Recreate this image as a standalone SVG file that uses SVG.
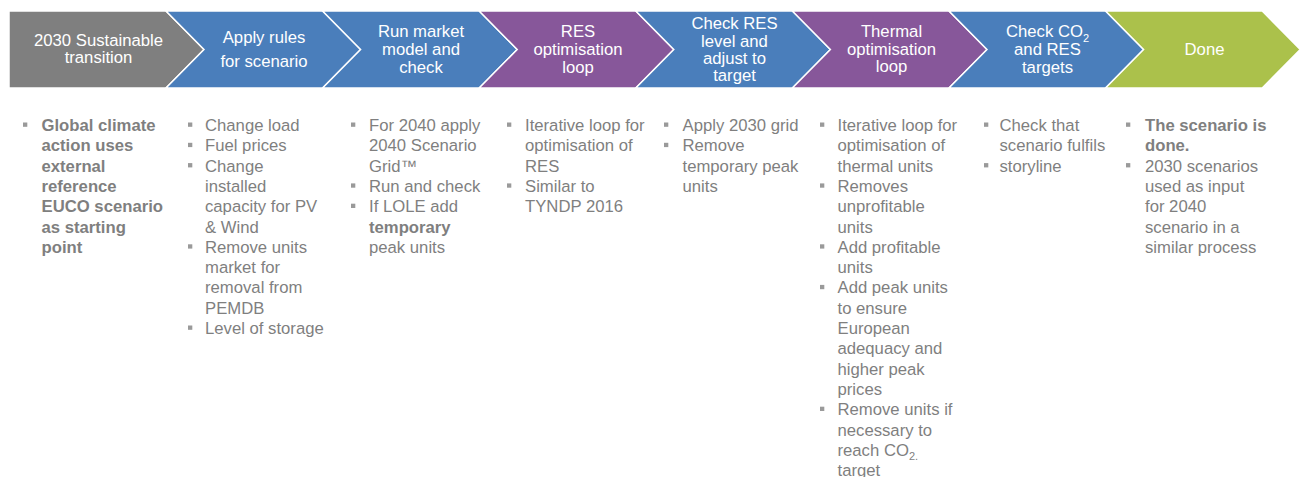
<svg xmlns="http://www.w3.org/2000/svg" width="1306" height="477" viewBox="0 0 1306 477">
<style>
.chev{stroke:#FFFFFF;stroke-width:1.5;stroke-linejoin:miter}
.gray{fill:#7F7F7F}.blue{fill:#4A7EBB}.purple{fill:#87579A}.green{fill:#ABC14B}
.hd{font-family:"Liberation Sans",Arial,sans-serif;font-size:16.7px;fill:#FFFFFF;text-anchor:middle}
.bt{font-family:"Liberation Sans",Arial,sans-serif;font-size:16.7px;fill:#7F7F7F}
.b{font-weight:bold}
.sub{font-size:11px}
.bul{fill:#9A9A9A}
</style>
<defs>
<rect id="bul" class="bul" width="4.3" height="4.3"/>
</defs>
<rect width="1306" height="477" fill="#FFFFFF"/>
<g id="connectors"/>

<g id="step1">
<path class="chev gray" d="M9,11 H166 L204,49.5 L166,88 H9 Z"/>
<text class="hd"><tspan x="98.5" y="45.5">2030 Sustainable</tspan><tspan x="98.5" y="63">transition</tspan></text>
<use href="#bul" x="23" y="122.5"/>
<text class="bt b"><tspan x="41.5" y="131">Global climate</tspan><tspan x="41.5" y="151.3">action uses</tspan><tspan x="41.5" y="171.6">external</tspan><tspan x="41.5" y="191.9">reference</tspan><tspan x="41.5" y="212.2">EUCO scenario</tspan><tspan x="41.5" y="232.5">as starting</tspan><tspan x="41.5" y="252.8">point</tspan></text>
</g>

<g id="step2">
<path class="chev blue" d="M166,11 H322.6 L360.6,49.5 L322.6,88 H166 L204,49.5 Z"/>
<text class="hd"><tspan x="264" y="43">Apply rules</tspan><tspan x="264" y="66.5">for scenario</tspan></text>
<use href="#bul" x="188" y="122.5"/>
<use href="#bul" x="188" y="142.8"/>
<use href="#bul" x="188" y="163.1"/>
<use href="#bul" x="188" y="244.3"/>
<use href="#bul" x="188" y="325.5"/>
<text class="bt"><tspan x="205" y="131">Change load</tspan><tspan x="205" y="151.3">Fuel prices</tspan><tspan x="205" y="171.6">Change</tspan><tspan x="205" y="191.9">installed</tspan><tspan x="205" y="212.2">capacity for PV</tspan><tspan x="205" y="232.5">&amp; Wind</tspan><tspan x="205" y="252.8">Remove units</tspan><tspan x="205" y="273.1">market for</tspan><tspan x="205" y="293.4">removal from</tspan><tspan x="205" y="313.7">PEMDB</tspan><tspan x="205" y="334">Level of storage</tspan></text>
</g>

<g id="step3">
<path class="chev blue" d="M322.6,11 H479.2 L517.2,49.5 L479.2,88 H322.6 L360.6,49.5 Z"/>
<text class="hd"><tspan x="421" y="37">Run market</tspan><tspan x="421" y="55">model and</tspan><tspan x="421" y="73">check</tspan></text>
<use href="#bul" x="351" y="122.5"/>
<use href="#bul" x="351" y="183.4"/>
<use href="#bul" x="351" y="203.7"/>
<text class="bt"><tspan x="369" y="131">For 2040 apply</tspan><tspan x="369" y="151.3">2040 Scenario</tspan><tspan x="369" y="171.6">Grid™</tspan><tspan x="369" y="191.9">Run and check</tspan><tspan x="369" y="212.2">If LOLE add</tspan><tspan x="369" y="232.5" class="b">temporary</tspan><tspan x="369" y="252.8">peak units</tspan></text>
</g>

<g id="step4">
<path class="chev purple" d="M479.2,11 H635.8 L673.8,49.5 L635.8,88 H479.2 L517.2,49.5 Z"/>
<text class="hd"><tspan x="578" y="37">RES</tspan><tspan x="578" y="55">optimisation</tspan><tspan x="578" y="73">loop</tspan></text>
<use href="#bul" x="507" y="122.5"/>
<use href="#bul" x="507" y="183.4"/>
<text class="bt"><tspan x="525" y="131">Iterative loop for</tspan><tspan x="525" y="151.3">optimisation of</tspan><tspan x="525" y="171.6">RES</tspan><tspan x="525" y="191.9">Similar to</tspan><tspan x="525" y="212.2">TYNDP 2016</tspan></text>
</g>

<g id="step5">
<path class="chev blue" d="M635.8,11 H792.4 L830.4,49.5 L792.4,88 H635.8 L673.8,49.5 Z"/>
<text class="hd"><tspan x="734.5" y="29">Check RES</tspan><tspan x="734.5" y="46.5">level and</tspan><tspan x="734.5" y="64">adjust to</tspan><tspan x="734.5" y="81">target</tspan></text>
<use href="#bul" x="664" y="122.5"/>
<use href="#bul" x="664" y="142.8"/>
<text class="bt"><tspan x="682.5" y="131">Apply 2030 grid</tspan><tspan x="682.5" y="151.3">Remove</tspan><tspan x="682.5" y="171.6">temporary peak</tspan><tspan x="682.5" y="191.9">units</tspan></text>
</g>

<g id="step6">
<path class="chev purple" d="M792.4,11 H949 L987,49.5 L949,88 H792.4 L830.4,49.5 Z"/>
<text class="hd"><tspan x="891.5" y="37">Thermal</tspan><tspan x="891.5" y="54.5">optimisation</tspan><tspan x="891.5" y="72">loop</tspan></text>
<use href="#bul" x="820" y="122.5"/>
<use href="#bul" x="820" y="183.4"/>
<use href="#bul" x="820" y="244.3"/>
<use href="#bul" x="820" y="284.9"/>
<use href="#bul" x="820" y="406.7"/>
<text class="bt"><tspan x="837.5" y="131">Iterative loop for</tspan><tspan x="837.5" y="151.3">optimisation of</tspan><tspan x="837.5" y="171.6">thermal units</tspan><tspan x="837.5" y="191.9">Removes</tspan><tspan x="837.5" y="212.2">unprofitable</tspan><tspan x="837.5" y="232.5">units</tspan><tspan x="837.5" y="252.8">Add profitable</tspan><tspan x="837.5" y="273.1">units</tspan><tspan x="837.5" y="293.4">Add peak units</tspan><tspan x="837.5" y="313.7">to ensure</tspan><tspan x="837.5" y="334">European</tspan><tspan x="837.5" y="354.3">adequacy and</tspan><tspan x="837.5" y="374.6">higher peak</tspan><tspan x="837.5" y="394.9">prices</tspan><tspan x="837.5" y="415.2">Remove units if</tspan><tspan x="837.5" y="435.5">necessary to</tspan><tspan x="837.5" y="455.8">reach CO</tspan><tspan class="sub" dy="4">2.</tspan><tspan x="837.5" y="476.1">target</tspan></text>
</g>

<g id="step7">
<path class="chev blue" d="M949,11 H1105.6 L1143.6,49.5 L1105.6,88 H949 L987,49.5 Z"/>
<text class="hd"><tspan x="1047.5" y="37">Check CO</tspan><tspan class="sub" dy="4.5">2</tspan><tspan x="1047.5" y="55">and RES</tspan><tspan x="1047.5" y="73">targets</tspan></text>
<use href="#bul" x="984" y="122.5"/>
<use href="#bul" x="984" y="163.1"/>
<text class="bt"><tspan x="999.5" y="131">Check that</tspan><tspan x="999.5" y="151.3">scenario fulfils</tspan><tspan x="999.5" y="171.6">storyline</tspan></text>
</g>

<g id="step8">
<path class="chev green" d="M1105.6,11 H1262.2 L1300.2,49.5 L1262.2,88 H1105.6 L1143.6,49.5 Z"/>
<text class="hd"><tspan x="1204.5" y="55">Done</tspan></text>
<use href="#bul" x="1126" y="122.5"/>
<use href="#bul" x="1126" y="163.1"/>
<text class="bt"><tspan x="1145" y="131" class="b">The scenario is</tspan><tspan x="1145" y="151.3" class="b">done.</tspan><tspan x="1145" y="171.6">2030 scenarios</tspan><tspan x="1145" y="191.9">used as input</tspan><tspan x="1145" y="212.2">for 2040</tspan><tspan x="1145" y="232.5">scenario in a</tspan><tspan x="1145" y="252.8">similar process</tspan></text>
</g>
</svg>
